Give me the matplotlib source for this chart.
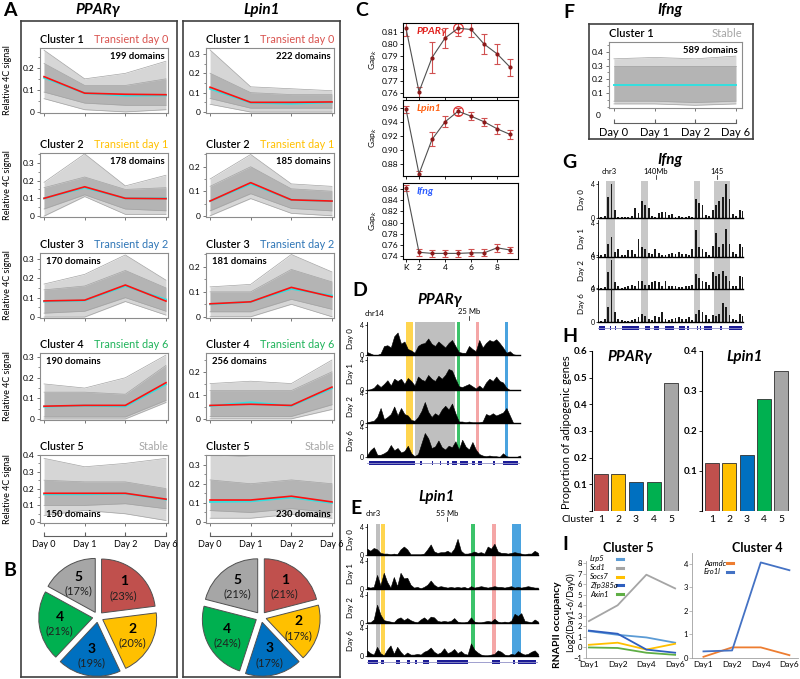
import numpy as np
import matplotlib
matplotlib.use("Agg")
import matplotlib.pyplot as plt
import matplotlib.transforms as mtrans
from matplotlib.ticker import FuncFormatter, MultipleLocator

plt.rcParams["font.family"] = ["Lato", "DejaVu Sans"]

W, H = 800, 679

# ---------------- panel A / B data ----------------
DAYS = ["Day 0", "Day 1", "Day 2", "Day 6"]
STATUS = ["Transient day 0", "Transient day 1", "Transient day 2", "Transient day 6", "Stable"]
STATUS_COLOURS = ["#d9534f", "#ffc000", "#2e75b6", "#1fb35a", "#a6a6a6"]
PIE_COLOURS = ["#c0504d", "#ffc000", "#0070c0", "#00b050", "#a6a6a6"]

PPARG_DOMAINS = [199, 178, 170, 190, 150]
LPIN1_DOMAINS = [222, 185, 181, 256, 230]
PPARG_PCT = [23, 20, 19, 21, 17]
LPIN1_PCT = [21, 17, 17, 24, 21]

PPARG_MEAN = [[0.16, 0.085, 0.08, 0.078], [0.10, 0.165, 0.10, 0.098], [0.083, 0.087, 0.165, 0.082],
              [0.062, 0.066, 0.066, 0.176], [0.172, 0.172, 0.172, 0.137]]
PPARG_MED = [[0.155, 0.085, 0.074, 0.075], [0.10, 0.16, 0.10, 0.10], [0.08, 0.085, 0.16, 0.09],
             [0.06, 0.065, 0.061, 0.168], [0.166, 0.166, 0.17, 0.135]]
PPARG_LO = [[0.09, 0.04, 0.03, 0.03], [0.04, 0.12, 0.04, 0.03], [0.02, 0.03, 0.10, 0.03],
            [0.01, 0.01, 0.01, 0.09], [0.10, 0.10, 0.11, 0.08]]
PPARG_HI = [[0.22, 0.12, 0.12, 0.15], [0.16, 0.22, 0.15, 0.16], [0.14, 0.16, 0.24, 0.15],
            [0.13, 0.13, 0.12, 0.26], [0.25, 0.24, 0.24, 0.20]]
PPARG_OLO = [[0.06, 0.01, 0.0, 0.01], [0.0, 0.11, 0.01, 0.01], [0.0, 0.0, 0.08, 0.01],
             [0.0, 0.0, 0.0, 0.08], [0.04, 0.07, 0.05, 0.01]]
PPARG_OHI = [[0.28, 0.15, 0.175, 0.23], [0.19, 0.35, 0.17, 0.23], [0.17, 0.22, 0.32, 0.19],
             [0.17, 0.15, 0.20, 0.31], [0.38, 0.33, 0.35, 0.38]]

LPIN1_MEAN = [[0.128, 0.05, 0.05, 0.052], [0.06, 0.135, 0.065, 0.06], [0.052, 0.06, 0.118, 0.08],
              [0.057, 0.062, 0.057, 0.135], [0.115, 0.115, 0.135, 0.105]]
LPIN1_MED = [[0.12, 0.048, 0.043, 0.05], [0.06, 0.13, 0.065, 0.06], [0.05, 0.06, 0.112, 0.085],
             [0.055, 0.07, 0.055, 0.13], [0.105, 0.108, 0.128, 0.10]]
LPIN1_LO = [[0.07, 0.02, 0.02, 0.02], [0.02, 0.09, 0.03, 0.02], [0.02, 0.02, 0.07, 0.03],
            [0.01, 0.01, 0.01, 0.06], [0.06, 0.05, 0.07, 0.05]]
LPIN1_HI = [[0.20, 0.10, 0.09, 0.09], [0.12, 0.20, 0.11, 0.10], [0.10, 0.10, 0.19, 0.14],
            [0.12, 0.12, 0.12, 0.20], [0.22, 0.20, 0.22, 0.20]]
LPIN1_OLO = [[0.04, 0.0, 0.0, 0.0], [0.0, 0.07, 0.01, 0.0], [0.0, 0.0, 0.05, 0.0],
             [0.0, 0.0, 0.0, 0.04], [0.02, 0.02, 0.04, 0.02]]
LPIN1_OHI = [[0.32, 0.13, 0.12, 0.11], [0.15, 0.25, 0.13, 0.12], [0.12, 0.13, 0.25, 0.18],
             [0.15, 0.16, 0.15, 0.25], [0.35, 0.34, 0.34, 0.34]]

# ---------------- panel C data ----------------
K = [1, 2, 3, 4, 5, 6, 7, 8, 9]
GAP_PPARG = [0.813, 0.761, 0.789, 0.805, 0.813, 0.812, 0.800, 0.792, 0.781]
ERR_PPARG = [0.006, 0.004, 0.013, 0.008, 0.006, 0.006, 0.008, 0.008, 0.007]
GAP_LPIN1 = [0.958, 0.866, 0.915, 0.940, 0.955, 0.948, 0.940, 0.930, 0.922]
ERR_LPIN1 = [0.005, 0.004, 0.010, 0.008, 0.005, 0.006, 0.006, 0.007, 0.006]
GAP_IFNG = [0.862, 0.747, 0.745, 0.745, 0.745, 0.746, 0.746, 0.755, 0.751]
ERR_IFNG = [0.005, 0.006, 0.006, 0.006, 0.006, 0.006, 0.006, 0.007, 0.006]

# ---------------- panel D / E / G 4C tracks ----------------
TRACK_DAYS = ["Day 0", "Day 1", "Day 2", "Day 6"]
D_RANGE = (23.0, 26.0)
D_SIG = [
    [0.4, 0.2, 0, 0, 0.2, 1.2, 1.3, 1.0, 2.5, 3.0, 1.5, 1.8, 0.8, 0.6, 0.3, 1.2, 1.5, 1.6, 2.2, 1.5, 1.2, 1.8, 1.4,
     1.0, 1.6, 2.0, 1.2, 0.4, 0.3, 0.3, 1.2, 0.8, 0.5, 2.0, 1.0, 1.6, 2.0, 1.8, 2.1, 1.6, 1.0, 0.3, 0.5, 0.1, 0, 0],
    [0, 0.1, 0.3, 0.8, 0.4, 0.8, 1.3, 0.6, 1.5, 1.2, 1.5, 0.8, 1.6, 1.2, 0.6, 1.8, 1.4, 1.2, 2.0, 1.5, 1.2, 1.9, 1.5,
     2.0, 2.8, 2.6, 1.5, 0.5, 0.4, 0.6, 0.8, 0.5, 0.2, 0.6, 0.2, 1.0, 1.5, 1.2, 1.8, 1.2, 1.0, 0.3, 0, 0, 0, 0],
    [0.1, 0.2, 0.3, 0.8, 2.0, 0.5, 0.8, 1.2, 2.2, 1.0, 2.0, 1.2, 1.0, 0.4, 0.3, 0.8, 1.6, 2.8, 1.5, 0.8, 1.3, 1.0, 1.8,
     2.3, 1.8, 2.6, 1.3, 0.2, 0.2, 0.1, 0.2, 0.1, 0.1, 0.1, 0.2, 1.2, 1.0, 1.3, 1.0, 1.2, 1.4, 2.0, 1.0, 0, 0, 0],
    [0.2, 0.9, 1.3, 0.3, 0.3, 0.5, 0.8, 1.6, 0.9, 1.2, 0.6, 0.8, 1.5, 0.5, 0.1, 0.4, 1.8, 3.2, 2.5, 1.2, 1.4, 2.2, 1.3,
     1.0, 1.5, 1.3, 2.1, 1.0, 2.3, 1.4, 1.0, 2.0, 1.0, 0.4, 0.2, 0.1, 0.2, 0.1, 0.1, 0.0, 0.5, 0.1, 0, 0, 0, 0.2],
]
D_SPANS = [(23.77, 23.90, "#ffd54f"), (23.95, 24.73, "#bfbfbf"), (24.77, 24.83, "#3cc36a"),
           (25.14, 25.20, "#f4a6a6"), (25.71, 25.77, "#4aa3df")]
D_GENES = [(23.03, 23.95), (24.04, 24.08), (24.27, 24.30), (24.43, 24.46), (24.57, 24.60), (24.66, 24.76),
           (24.83, 24.99), (25.05, 25.12), (25.18, 25.25), (25.48, 25.50), (25.67, 25.97)]

E_RANGE = (53.6, 56.6)
E_SIG = [
    [0.9, 0.6, 1.0, 0.8, 0.3, 0.2, 0.2, 0.1, 0.2, 0.1, 0.8, 1.2, 0.8, 0.1, 0.1, 0.1, 0.1, 0.2, 0.8, 1.5, 0.5, 0.3,
     0.4, 0.4, 0.6, 0.3, 0.9, 2.3, 0.6, 0.2, 0.2, 0.3, 0.5, 0.3, 0.4, 0.2, 1.2, 0.9, 1.6, 0.5, 0.3, 0.3, 0.2, 0.3,
     0.4, 0.3, 0.2, 0.1, 0.2, 0.2, 0.6, 0.3],
    [0.3, 0.2, 0.3, 2.0, 0.5, 2.3, 1.0, 0.2, 1.7, 0.4, 2.3, 1.5, 1.6, 0.6, 0.2, 0.3, 0.1, 0.3, 0.6, 1.2, 0.6, 0.3,
     0.4, 0.3, 0.2, 0.3, 0.2, 0.3, 0.2, 0.3, 0.1, 0.4, 0.2, 0.3, 0.4, 0.3, 0.2, 0.3, 0.4, 0.3, 0.3, 0.2, 0.3, 0.4,
     0.2, 0.3, 0.2, 0.3, 0.4, 0.3, 0.2, 0.2],
    [0.1, 0.1, 0.5, 2.6, 1.2, 0.4, 0.3, 0.2, 0.1, 0.6, 0.8, 0.4, 0.7, 0.4, 0.2, 0.1, 0.5, 0.8, 0.4, 0.9, 0.8, 0.3,
     0.2, 0.3, 0.2, 0.3, 0.7, 0.2, 0.1, 0.1, 0.2, 0.8, 0.2, 0.1, 0.1, 0.2, 0.3, 0.2, 0.6, 0.2, 0.1, 0.2, 0.1, 0.3,
     1.3, 1.0, 1.4, 0.3, 0.2, 0.1, 0.5, 0.2],
    [0.8, 0.4, 0.2, 1.3, 0.4, 0.1, 0.9, 1.5, 0.3, 1.3, 0.6, 0.1, 0.5, 0.2, 0.2, 0.3, 0.2, 0.6, 0.8, 1.2, 0.6, 0.3,
     0.5, 1.1, 0.4, 0.6, 1.0, 0.4, 0.7, 0.3, 0.2, 1.8, 0.9, 0.5, 0.2, 0.1, 0.1, 0.2, 0.3, 0.8, 0.6, 0.2, 0.1, 0.3,
     0.2, 0.7, 0.4, 0.2, 0.3, 0.6, 0.8, 0.3],
]
E_SPANS = [(53.75, 53.82, "#bfbfbf"), (53.85, 53.92, "#ffd54f"), (55.42, 55.49, "#3cc36a"),
           (55.80, 55.87, "#f4a6a6"), (56.15, 56.31, "#4aa3df")]
E_GENES = [(53.62, 53.80), (53.85, 53.89), (54.10, 54.18), (54.30, 54.36), (54.44, 54.47), (54.59, 54.68),
           (54.82, 55.38), (55.80, 55.93), (56.16, 56.19), (56.25, 56.57)]

G_RANGE = (135.25, 147.15)
G_SIG = [
    [0.1, 0.1, 0.2, 2.5, 4.0, 1.0, 0.1, 0.1, 0.1, 0.1, 0.2, 1.2, 0.6, 2.0, 1.6, 1.2, 0.2, 0.1, 0.6, 0.7, 0.7, 0.3,
     0.5, 0.1, 0.2, 0.1, 0.1, 0.2, 0.1, 2.2, 1.8, 1.6, 0.4, 0.2, 1.0, 1.6, 2.0, 2.5, 4.0, 2.2, 0.5, 0.2, 1.0, 0.8],
    [0.1, 0.2, 0.3, 1.5, 2.4, 0.6, 1.0, 0.2, 0.2, 0.8, 0.8, 0.3, 2.2, 1.2, 0.9, 0.5, 0.3, 0.9, 0.5, 0.2, 0.2, 0.4,
     0.5, 0.3, 0.6, 0.4, 0.3, 0.2, 1.0, 3.2, 1.2, 1.0, 0.6, 0.2, 1.3, 2.8, 1.2, 1.5, 3.3, 1.5, 0.6, 0.3, 1.5, 1.2],
    [0.3, 0.1, 0.2, 2.0, 3.5, 0.8, 0.3, 0.1, 0.2, 0.3, 0.5, 0.4, 1.0, 1.0, 0.5, 0.5, 0.8, 1.0, 0.8, 0.3, 0.9, 0.3,
     0.3, 0.4, 0.2, 0.2, 0.3, 0.3, 0.5, 1.8, 1.3, 1.0, 0.8, 0.5, 2.0, 1.5, 1.8, 2.1, 1.5, 1.0, 0.3, 0.4, 1.5, 1.4],
    [0.1, 0.1, 0.3, 1.8, 4.0, 1.2, 0.4, 0.2, 0.1, 0.1, 0.2, 0.4, 0.6, 0.9, 0.7, 0.3, 0.2, 0.7, 0.6, 1.2, 0.3, 0.2,
     0.3, 0.5, 0.6, 0.3, 0.4, 0.6, 0.2, 1.0, 1.4, 1.2, 0.8, 0.3, 0.8, 0.7, 1.0, 2.2, 1.8, 0.8, 0.4, 0.2, 0.9, 0.7],
]
G_SPANS = [(135.91, 136.67, "#c8c8c8"), (138.78, 139.35, "#c8c8c8"), (143.10, 143.60, "#c8c8c8"),
           (144.74, 146.11, "#c8c8c8")]
G_GENES = [(135.30, 135.85), (136.26, 136.34), (136.62, 136.70), (137.22, 138.59), (139.13, 139.55),
           (139.82, 140.23), (140.78, 141.46), (141.87, 142.42), (142.55, 142.69), (143.38, 143.43),
           (143.65, 143.70), (143.92, 144.61), (145.29, 145.43), (145.98, 147.07)]

# ---------------- panel F data ----------------
IFNG_MEAN = [0.16, 0.16, 0.16, 0.16]
IFNG_LO = [0.04, 0.04, 0.03, 0.04]
IFNG_HI = [0.30, 0.30, 0.30, 0.30]
IFNG_OLO = [0.02, 0.02, 0.01, 0.02]
IFNG_OHI = [0.35, 0.36, 0.35, 0.37]

# ---------------- panel H data ----------------
CLUSTERS = ["1", "2", "3", "4", "5"]
ADIPO_PPARG = [0.14, 0.14, 0.11, 0.11, 0.48]
ADIPO_LPIN1 = [0.12, 0.12, 0.14, 0.28, 0.35]

# ---------------- panel I data ----------------
I_DAYS = ["Day1", "Day2", "Day4", "Day6"]
C5_GENES = ["Lrp5", "Scd1", "Socs7", "Zfp385a", "Axin1"]
C5_COLOURS = ["#5b9bd5", "#a5a5a5", "#ffc000", "#2f5fbf", "#5fae45"]
C5_VALUES = [[1.55, 1.2, 0.95, 0.45], [2.5, 4.0, 6.9, 5.6], [0.25, 0.45, -0.2, 0.35],
             [1.6, 1.3, -0.2, -0.5], [0.0, -0.05, -0.5, -0.7]]
C4_GENES = ["Aamdc", "Ero1l"]
C4_COLOURS = ["#ed7d31", "#4472c4"]
C4_VALUES = [[0.05, 0.45, 0.45, 0.12], [0.28, 0.32, 4.05, 3.72]]


fig = plt.figure(figsize=(8, 6.79), dpi=100)


def axp(x0, y0, x1, y1, **kw):
    return fig.add_axes([x0 / W, 1 - y1 / H, (x1 - x0) / W, (y1 - y0) / H], **kw)


def ftext(x, y, s, **kw):
    fig.text(x / W, 1 - y / H, s, **kw)


def fmt_tick(v, _):
    return "0" if abs(v) < 1e-9 else "{:.1f}".format(v)


def box(x0, y0, x1, y1):
    ax = axp(x0, y0, x1, y1, facecolor="none")
    ax.set_xticks([])
    ax.set_yticks([])
    for s in ax.spines.values():
        s.set_color("#404040")
        s.set_linewidth(1.2)
    ax.set_zorder(-5)


def cluster_axes(x0, y0, x1, y1, mean, med, lo, hi, olo, ohi, ymax, show_mean=True):
    ax = axp(x0, y0, x1, y1)
    x = np.arange(4)
    ax.fill_between(x, olo, ohi, color="#d6d6d6", lw=0)
    ax.fill_between(x, lo, hi, color="#b4b4b4", lw=0)
    for edge in (olo, ohi, lo, hi):
        ax.plot(x, edge, color="#a4a4a4", lw=0.5)
    ax.plot(x, med, color="#33e0e0", lw=1.4)
    if show_mean:
        ax.plot(x, mean, color="#ff1010", lw=1.2)
    ax.set_xlim(-0.1, 3.05)
    ax.set_ylim(-0.005, ymax)
    ax.set_xticks(x)
    ax.set_xticklabels([])
    ax.yaxis.set_major_locator(MultipleLocator(0.1))
    ax.yaxis.set_minor_locator(MultipleLocator(0.05))
    ax.yaxis.set_major_formatter(FuncFormatter(fmt_tick))
    ax.tick_params(labelsize=6, length=2.5, width=0.6, color="#606060", pad=1.5)
    ax.tick_params(which="minor", length=1.5, width=0.5, color="#606060")
    for s in ax.spines.values():
        s.set_color("#8c8c8c")
        s.set_linewidth(0.8)
    return ax


def day_axis(x0, x1, y, xlim, size=6.5):
    ax = axp(x0, y, x1, y + 1, facecolor="none")
    ax.set_xlim(*xlim)
    ax.set_ylim(0, 1)
    for s in ["left", "right", "top"]:
        ax.spines[s].set_visible(False)
    ax.spines["bottom"].set_bounds(0, 3)
    ax.spines["bottom"].set_color("#606060")
    ax.spines["bottom"].set_linewidth(0.8)
    ax.set_yticks([])
    ax.set_xticks(range(4))
    ax.set_xticklabels(DAYS)
    ax.tick_params(axis="x", direction="in", length=3, color="#606060", labelsize=size, pad=3)


def panel_a(x0, x1, mean, med, lo, hi, olo, ohi, domains, ymaxes, places, ylabel):
    tops = [48, 153, 253, 353, 455]
    bots = [113, 217, 318, 420, 523]
    for i in range(5):
        ax = cluster_axes(x0, tops[i], x1, bots[i], mean[i], med[i], lo[i], hi[i], olo[i], ohi[i], ymaxes[i])
        ax.text(0.0, 1.04, "Cluster {}".format(i + 1), transform=ax.transAxes, fontsize=7.8,
                fontweight="semibold", ha="left", va="bottom")
        ax.text(1.0, 1.04, STATUS[i], transform=ax.transAxes, fontsize=7.8, color=STATUS_COLOURS[i],
                ha="right", va="bottom")
        px, py, ha, va = {"ur": (0.97, 0.94, "right", "top"), "ul": (0.05, 0.94, "left", "top"),
                          "ll": (0.05, 0.06, "left", "bottom"), "lr": (0.97, 0.06, "right", "bottom")}[places[i]]
        ax.text(px, py, "{} domains".format(domains[i]), transform=ax.transAxes, fontsize=6.8,
                fontweight="bold", ha=ha, va=va)
        if ylabel:
            ftext(8, (tops[i] + bots[i]) / 2, "Relative 4C signal", rotation=90, fontsize=6.5,
                  ha="center", va="center")
    day_axis(x0, x1, 535, (-0.1, 3.05))


def pie(cx, cy, pct):
    ax = axp(cx - 62, cy - 62, cx + 62, cy + 62)
    wedges, _ = ax.pie(pct, colors=PIE_COLOURS, startangle=90, counterclock=False,
                       explode=[0.1] * 5, radius=1.0,
                       wedgeprops=dict(edgecolor="#505050", linewidth=0.7))
    ax.set_xlim(-1.15, 1.15)
    ax.set_ylim(-1.15, 1.15)
    ax.set_aspect("equal")
    for i, w in enumerate(wedges):
        ang = np.deg2rad((w.theta1 + w.theta2) / 2)
        r = 0.72
        xx, yy = r * np.cos(ang), r * np.sin(ang)
        ax.text(xx, yy + 0.12, str(i + 1), fontsize=10, fontweight="bold", ha="center", va="center")
        ax.text(xx, yy - 0.14, "({}%)".format(pct[i]), fontsize=8, color="#202020", ha="center", va="center")


def gap_axes(y0, y1, vals, errs, ylim, yticks, label, colour, best, xlabels):
    ax = axp(403, y0, 518, y1)
    ax.errorbar(K, vals, yerr=errs, color="#505050", lw=0.8, ecolor="#d05050", elinewidth=0.8,
                capsize=2, capthick=0.8, marker="o", markersize=2, mfc="#8b1a1a", mec="#8b1a1a")
    if best:
        ax.plot(K[4], vals[4], "o", ms=7, mfc="none", mec="#e03030", mew=0.9)
    ax.set_xlim(0.77, 9.6)
    ax.set_ylim(*ylim)
    ax.set_yticks(yticks)
    ax.set_yticklabels(["{:.2f}".format(v) for v in yticks])
    ax.set_xticks([1, 2, 4, 6, 8])
    ax.set_xticklabels(["K", "2", "4", "6", "8"] if xlabels else [])
    ax.tick_params(labelsize=6, length=2, width=0.6, pad=1.5)
    ax.set_ylabel("Gap$_k$", fontsize=6, labelpad=2)
    ax.text(0.12, 0.95, label, transform=ax.transAxes, fontsize=7.5, fontweight="bold", style="italic",
            color=colour, va="top")
    return ax


def tracks(x0, x1, baselines, height, xrange, signals, spans, genes, gene_y, bars=False):
    top = baselines[0] - height
    bg = axp(x0, top, x1, baselines[-1])
    bg.set_xlim(*xrange)
    bg.set_ylim(0, 1)
    bg.axis("off")
    bg.set_zorder(-2)
    for a, b, c in spans:
        bg.axvspan(a, b, color=c, lw=0)
    pos = np.linspace(xrange[0], xrange[1], len(signals[0]))
    step = pos[1] - pos[0]
    for i, sig in enumerate(signals):
        ax = axp(x0, baselines[i] - height, x1, baselines[i], facecolor="none")
        if bars:
            ax.bar(pos, sig, width=step * 0.55, color="#1a1a1a", lw=0)
        else:
            ax.fill_between(pos, 0, sig, color="black", lw=0.4, edgecolor="black")
        ax.set_xlim(*xrange)
        ax.set_ylim(0, 4.4)
        ax.set_xticks([])
        ax.set_yticks([0, 4])
        ax.tick_params(labelsize=5, length=1.5, width=0.5, pad=1)
        ax.spines["top"].set_visible(False)
        ax.spines["right"].set_visible(False)
        ax.spines["left"].set_linewidth(0.6)
        ax.spines["bottom"].set_linewidth(1.0)
        ax.set_ylabel(TRACK_DAYS[i], fontsize=5.8, labelpad=4)
    gx = axp(x0, gene_y, x1, gene_y + 6)
    gx.set_xlim(*xrange)
    gx.set_ylim(0, 1)
    gx.axis("off")
    gx.axhline(0.5, color="#9090c8", lw=0.6)
    gx.broken_barh([(a, b - a) for a, b in genes], (0.1, 0.8), facecolors="#1c1c96")
    return bg


def top_label(ax, x, y, s, tick=True):
    # x in data units, y in figure pixels from the top
    tr = mtrans.blended_transform_factory(ax.transData, fig.transFigure)
    ax.text(x, 1 - y / H, s, transform=tr, fontsize=5.5, ha="center", va="center", clip_on=False)
    if tick:
        ax.plot([x, x], [1 - (y + 4) / H, 1 - (y + 8) / H], transform=tr, color="black", lw=0.5,
                clip_on=False)


def main():
    # ---- A ----
    ftext(3, 10, "A", fontsize=14, fontweight="bold", va="center")
    ftext(98, 10, "PPAR\u03b3", fontsize=11, fontweight="bold", style="italic", ha="center", va="center")
    ftext(262, 10, "Lpin1", fontsize=11, fontweight="bold", style="italic", ha="center", va="center")
    box(21, 21, 177, 677)
    box(183, 21, 340, 677)
    panel_a(40, 168, PPARG_MEAN, PPARG_MED, PPARG_LO, PPARG_HI, PPARG_OLO, PPARG_OHI,
            PPARG_DOMAINS, [0.29, 0.355, 0.33, 0.32, 0.40], ["ur", "ur", "ul", "ul", "ll"], True)
    panel_a(206, 334, LPIN1_MEAN, LPIN1_MED, LPIN1_LO, LPIN1_HI, LPIN1_OLO, LPIN1_OHI,
            LPIN1_DOMAINS, [0.33, 0.256, 0.256, 0.28, 0.35], ["ur", "ur", "ul", "ul", "lr"], False)

    # ---- B ----
    ftext(3, 570, "B", fontsize=14, fontweight="bold", va="center")
    pie(98, 617, PPARG_PCT)
    pie(261, 617, LPIN1_PCT)

    # ---- C ----
    ftext(355, 10, "C", fontsize=14, fontweight="bold", va="center")
    gap_axes(23, 97, GAP_PPARG, ERR_PPARG, (0.7567, 0.8173), [0.76, 0.77, 0.78, 0.79, 0.80, 0.81],
             "PPAR\u03b3", "#e0201c", True, False)
    gap_axes(100, 176, GAP_LPIN1, ERR_LPIN1, (0.863, 0.971), [0.88, 0.90, 0.92, 0.94, 0.96],
             "Lpin1", "#ff6010", True, False)
    gap_axes(183, 259, GAP_IFNG, ERR_IFNG, (0.735, 0.8706), [0.74, 0.76, 0.78, 0.80, 0.82, 0.84, 0.86],
             "Ifng", "#3060ff", False, True)

    # ---- D ----
    ftext(352, 290, "D", fontsize=14, fontweight="bold", va="center")
    ftext(440, 300, "PPAR\u03b3", fontsize=11, fontweight="bold", style="italic", ha="center", va="center")
    bg = tracks(367, 520, [355, 390, 423, 457], 33, D_RANGE, D_SIG, D_SPANS, D_GENES, 460)
    top_label(bg, 23.15, 313, "chr14", tick=False)
    top_label(bg, 25.0, 312, "25 Mb")

    # ---- E ----
    ftext(350, 508, "E", fontsize=14, fontweight="bold", va="center")
    ftext(437, 497, "Lpin1", fontsize=11, fontweight="bold", style="italic", ha="center", va="center")
    bg = tracks(367, 538, [555, 589, 623, 656], 31, E_RANGE, E_SIG, E_SPANS, E_GENES, 659)
    top_label(bg, 53.7, 514, "chr3", tick=False)
    top_label(bg, 55.0, 513, "55 Mb")

    # ---- F ----
    ftext(563, 12, "F", fontsize=14, fontweight="bold", va="center")
    ftext(670, 10, "Ifng", fontsize=11, fontweight="bold", style="italic", ha="center", va="center")
    box(589, 24, 753, 139)
    ax = cluster_axes(609, 42, 742, 108, IFNG_MEAN, IFNG_MEAN, IFNG_LO, IFNG_HI, IFNG_OLO, IFNG_OHI, 0.473,
                      show_mean=False)
    ax.set_xlim(-0.12, 3.15)
    ax.set_ylim(-0.01, 0.473)
    ax.set_yticks([0.1, 0.2, 0.3, 0.4])
    ax.yaxis.set_minor_locator(MultipleLocator(0.05))
    ax.text(0.0, 1.04, "Cluster 1", transform=ax.transAxes, fontsize=8, fontweight="semibold",
            ha="left", va="bottom")
    ax.text(1.0, 1.04, "Stable", transform=ax.transAxes, fontsize=8, color="#a6a6a6",
            ha="right", va="bottom")
    ax.text(0.97, 0.94, "589 domains", transform=ax.transAxes, fontsize=6.8, fontweight="bold",
            ha="right", va="top")
    ftext(601, 116, "0", fontsize=6, ha="right", va="center")
    day_axis(609, 742, 122, (-0.12, 3.15), size=8)

    # ---- G ----
    ftext(562, 162, "G", fontsize=14, fontweight="bold", va="center")
    ftext(670, 160, "Ifng", fontsize=11, fontweight="bold", style="italic", ha="center", va="center")
    bg = tracks(598, 743, [218, 257, 289, 322], 37, G_RANGE, G_SIG, G_SPANS, G_GENES, 325, bars=True)
    top_label(bg, 136.2, 172, "chr3", tick=False)
    top_label(bg, 140.0, 171, "140Mb")
    top_label(bg, 145.0, 171, "145")

    # ---- H ----
    ftext(562, 336, "H", fontsize=14, fontweight="bold", va="center")
    ftext(566, 432, "Proportion of adipogenic genes", rotation=90, fontsize=8, ha="center", va="center")
    for (x0, x1, xl, vals, ymax, title, tx) in [
            (592, 680, (0.49, 5.51), ADIPO_PPARG, 0.6, "PPAR\u03b3", 630),
            (702, 790, (0.42, 5.5), ADIPO_LPIN1, 0.4, "Lpin1", 745)]:
        ax = axp(x0, 351, x1, 511)
        ax.bar(range(1, 6), vals, width=0.8, color=PIE_COLOURS, edgecolor="#303030", linewidth=0.6)
        ax.set_xlim(*xl)
        ax.set_ylim(0, ymax)
        ax.yaxis.set_major_locator(MultipleLocator(0.1))
        ax.yaxis.set_major_formatter(FuncFormatter(lambda v, _: "" if v == 0 else "{:.1f}".format(v)))
        ax.set_xticks(range(1, 6))
        ax.set_xticklabels(CLUSTERS)
        for s in ["top", "right", "bottom"]:
            ax.spines[s].set_visible(False)
        ax.tick_params(axis="y", labelsize=7, length=2, width=0.6, pad=1.5)
        ax.tick_params(axis="x", labelsize=7.5, length=0, pad=3)
        for lbl in ax.get_yticklabels():
            lbl.set_fontweight("bold")
        ftext(tx, 357, title, fontsize=11, fontweight="bold", style="italic", ha="center", va="center")
    ftext(562, 519, "Cluster", fontsize=7.5, ha="left", va="center")

    # ---- I ----
    ftext(562, 545, "I", fontsize=14, fontweight="bold", va="center")
    ftext(558, 625, "RNAPII occupancy", rotation=90, fontsize=7.5, fontweight="bold", ha="center", va="center")
    ftext(570, 612, "Log2(Day1-6/Day0)", rotation=90, fontsize=6.5, ha="center", va="center")
    panels = [
        (586, 678, 561, C5_GENES, C5_COLOURS, C5_VALUES, (-1, 8.2), range(-1, 9), (-0.1, 3.1),
         "Cluster 5", 628, 590, 559, 8.8, 27),
        (692, 798, 553, C4_GENES, C4_COLOURS, C4_VALUES, (0, 4.45), range(0, 5), (-0.4, 3.3),
         "Cluster 4", 757, 704, 563, 8.5, 23),
    ]
    for (x0, x1, top, names, cols, vals, ylim, yticks, xlim, title, tx, lx, ly0, dy, dash) in panels:
        ax = axp(x0, top, x1, 658)
        for v, c in zip(vals, cols):
            ax.plot(range(4), v, color=c, lw=1.3)
        ax.set_xlim(*xlim)
        ax.set_ylim(*ylim)
        ax.set_yticks(list(yticks))
        ax.set_xticks(range(4))
        ax.set_xticklabels(I_DAYS)
        for s in ["top", "right"]:
            ax.spines[s].set_visible(False)
        for s in ["left", "bottom"]:
            ax.spines[s].set_color("#a0a0a0")
            ax.spines[s].set_linewidth(0.6)
        ax.tick_params(axis="y", labelsize=5.5, length=2, width=0.5, pad=1, color="#a0a0a0")
        ax.tick_params(axis="x", labelsize=6, length=0, pad=2)
        ftext(tx, 548, title, fontsize=9, fontweight="bold", ha="center", va="center")
        for j, (n, c) in enumerate(zip(names, cols)):
            yy = ly0 + j * dy
            ftext(lx, yy, n, fontsize=5.5, style="italic", ha="left", va="center")
            fig.add_artist(plt.Line2D([(lx + dash) / W, (lx + dash + 6) / W], [1 - yy / H] * 2,
                                      color=c, lw=2.2))

    fig.savefig("out.png", dpi=100)


if __name__ == "__main__":
    main()
